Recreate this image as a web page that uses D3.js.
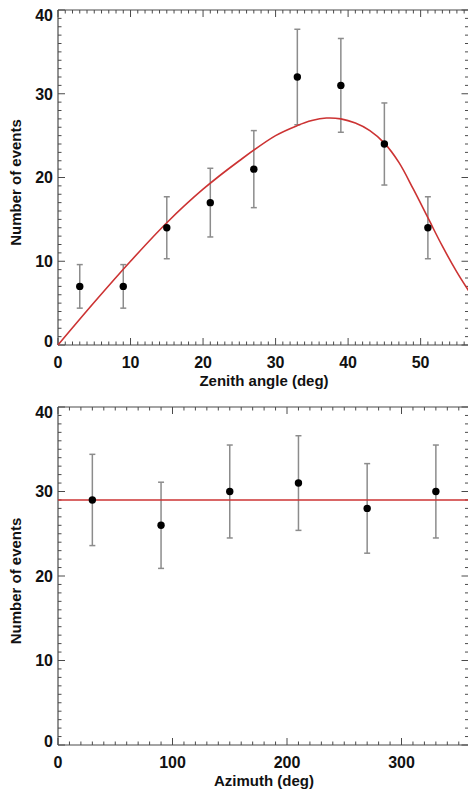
<!DOCTYPE html>
<html>
<head>
<meta charset="utf-8">
<script src="https://cdn.jsdelivr.net/npm/d3@7"></script>
<style>
  html, body { margin: 0; padding: 0; background: #fff; }
  svg { display: block; font-family: "Liberation Sans", Arial, sans-serif; }
</style>
</head>
<body>
<svg id="chart" width="468" height="793"></svg>
<script>
// ---- Data ----
// Top panel: zenith angle distribution
const zenithAngles = [3, 9, 15, 21, 27, 33, 39, 45, 51];
const zenithCounts = [7, 7, 14, 17, 21, 32, 31, 24, 14];
const zenithErrors = [2.6, 2.6, 3.7, 4.1, 4.6, 5.7, 5.6, 4.9, 3.7];
// Fitted curve
const zenithCurveX = [0, 5, 10, 15, 20, 25, 30, 33, 35, 37, 39, 41, 43, 45, 47, 49, 51, 53, 55, 56.6];
const zenithCurveY = [0, 5.1, 10.0, 14.6, 18.6, 22.0, 25.0, 26.2, 26.8, 27.1, 27.0, 26.5, 25.6, 24.1, 21.8, 18.6, 15.2, 11.8, 8.7, 6.5];
const zenithXTicks = [0, 10, 20, 30, 40, 50];
// Bottom panel: azimuth distribution
const azimuthAngles = [30, 90, 150, 210, 270, 330];
const azimuthCounts = [29, 26, 30, 31, 28, 30];
const azimuthErrors = [5.4, 5.1, 5.5, 5.6, 5.3, 5.5];
const azimuthFit = [29];
const azimuthXTicks = [0, 100, 200, 300];
const yTicks = [0, 10, 20, 30, 40];

(function () {
const svg = d3.select("#chart");
const axisColor = "#4a4a4a";
const red = "#cc3333";
const errColor = "#8c8c8c";

function panel(cfg) {
  const x = d3.scaleLinear().domain(cfg.xDomain).range([58, 468.5]);
  const y = d3.scaleLinear().domain([0, 40]).range([cfg.bottom, cfg.top]);
  const g = svg.append("g");

  const xMinor = d3.range(cfg.xDomain[0], cfg.xDomain[1] + 1e-9, cfg.xMinorStep);
  const yMinor = d3.range(0, 40.0001, 1);
  const isMajorX = v => Math.abs(v / cfg.xMajorStep - Math.round(v / cfg.xMajorStep)) < 1e-6;
  const isMajorY = v => v % 10 === 0;

  g.selectAll(".xb").data(xMinor).join("line")
    .attr("x1", d => x(d)).attr("x2", d => x(d))
    .attr("y1", y(0)).attr("y2", d => y(0) - (isMajorX(d) ? 7 : 3.5))
    .attr("stroke", axisColor).attr("stroke-width", 1);
  g.selectAll(".xt").data(xMinor).join("line")
    .attr("x1", d => x(d)).attr("x2", d => x(d))
    .attr("y1", y(40)).attr("y2", d => y(40) + (isMajorX(d) ? 7 : 3.5))
    .attr("stroke", axisColor).attr("stroke-width", 1);
  g.selectAll(".yl").data(yMinor).join("line")
    .attr("x1", x(cfg.xDomain[0])).attr("x2", d => x(cfg.xDomain[0]) + (isMajorY(d) ? 7 : 3.5))
    .attr("y1", d => y(d)).attr("y2", d => y(d))
    .attr("stroke", axisColor).attr("stroke-width", 1);
  g.selectAll(".yr").data(yMinor).join("line")
    .attr("x1", x(cfg.xDomain[1])).attr("x2", d => x(cfg.xDomain[1]) - (isMajorY(d) ? 7 : 3.5))
    .attr("y1", d => y(d)).attr("y2", d => y(d))
    .attr("stroke", axisColor).attr("stroke-width", 1);

  g.append("line").attr("x1", x(cfg.xDomain[0])).attr("x2", x(cfg.xDomain[1]))
    .attr("y1", y(0)).attr("y2", y(0)).attr("stroke", axisColor).attr("stroke-width", 1.2);
  g.append("line").attr("x1", x(cfg.xDomain[0])).attr("x2", x(cfg.xDomain[1]))
    .attr("y1", y(40)).attr("y2", y(40)).attr("stroke", axisColor).attr("stroke-width", 1.2);
  g.append("line").attr("x1", x(cfg.xDomain[0])).attr("x2", x(cfg.xDomain[0]))
    .attr("y1", y(0)).attr("y2", y(40)).attr("stroke", axisColor).attr("stroke-width", 1.2);

  g.selectAll(".xlab").data(cfg.xTicks).join("text")
    .attr("x", d => x(d)).attr("y", y(0) + 23)
    .attr("text-anchor", "middle").attr("font-size", 16).attr("font-weight", "bold")
    .attr("fill", "#111").text(d => d);
  g.selectAll(".ylab").data(yTicks).join("text")
    .attr("x", 53).attr("y", d => y(d) + (d === 40 ? 5 : d === 0 ? -4 : 0))
    .attr("dy", "0.36em")
    .attr("text-anchor", "end").attr("font-size", 16).attr("font-weight", "bold")
    .attr("fill", "#111").text(d => d);

  g.append("text").attr("x", 264).attr("y", y(0) + 41)
    .attr("text-anchor", "middle").attr("font-size", 15).attr("font-weight", "bold")
    .attr("fill", "#111").text(cfg.xTitle);
  g.append("text")
    .attr("transform", `translate(21,${(y(0) + y(40)) / 2 + 5}) rotate(-90)`)
    .attr("text-anchor", "middle").attr("font-size", 15).attr("font-weight", "bold")
    .attr("fill", "#111").text("Number of events");

  return { g, x, y };
}

function drawPoints(p, xs, ys, es) {
  const pts = xs.map((v, i) => ({ x: v, y: ys[i], e: es[i] }));
  const eg = p.g.append("g").attr("stroke", errColor).attr("stroke-width", 1.5);
  eg.selectAll(".ev").data(pts).join("line")
    .attr("x1", d => p.x(d.x)).attr("x2", d => p.x(d.x))
    .attr("y1", d => p.y(d.y - d.e)).attr("y2", d => p.y(d.y + d.e));
  eg.selectAll(".ct").data(pts).join("line")
    .attr("x1", d => p.x(d.x) - 3).attr("x2", d => p.x(d.x) + 3)
    .attr("y1", d => p.y(d.y + d.e)).attr("y2", d => p.y(d.y + d.e));
  eg.selectAll(".cb").data(pts).join("line")
    .attr("x1", d => p.x(d.x) - 3).attr("x2", d => p.x(d.x) + 3)
    .attr("y1", d => p.y(d.y - d.e)).attr("y2", d => p.y(d.y - d.e));
  return pts;
}

// ---- Top panel ----
const zen = panel({ xDomain: [0, 56.6], top: 10, bottom: 345, xMinorStep: 1, xMajorStep: 10,
  xTicks: zenithXTicks, xTitle: "Zenith angle (deg)" });
const zenPts = drawPoints(zen, zenithAngles, zenithCounts, zenithErrors);
const curve = zenithCurveX.map((v, i) => [v, zenithCurveY[i]]);
zen.g.append("path").datum(curve)
  .attr("d", d3.line().x(d => zen.x(d[0])).y(d => zen.y(d[1])).curve(d3.curveCatmullRom.alpha(0.5)))
  .attr("fill", "none").attr("stroke", red).attr("stroke-width", 1.6);
zen.g.selectAll(".dot").data(zenPts).join("circle")
  .attr("cx", d => zen.x(d.x)).attr("cy", d => zen.y(d.y)).attr("r", 3.7).attr("fill", "#000");

// ---- Bottom panel ----
const azi = panel({ xDomain: [0, 358.5], top: 407, bottom: 745, xMinorStep: 10, xMajorStep: 100,
  xTicks: azimuthXTicks, xTitle: "Azimuth (deg)" });
const aziPts = drawPoints(azi, azimuthAngles, azimuthCounts, azimuthErrors);
azi.g.selectAll(".fit").data(azimuthFit).join("line")
  .attr("x1", azi.x(0)).attr("x2", azi.x(358.5))
  .attr("y1", d => azi.y(d)).attr("y2", d => azi.y(d))
  .attr("stroke", red).attr("stroke-width", 1.6);
azi.g.selectAll(".dot").data(aziPts).join("circle")
  .attr("cx", d => azi.x(d.x)).attr("cy", d => azi.y(d.y)).attr("r", 3.7).attr("fill", "#000");
})();
</script>
</body>
</html>
